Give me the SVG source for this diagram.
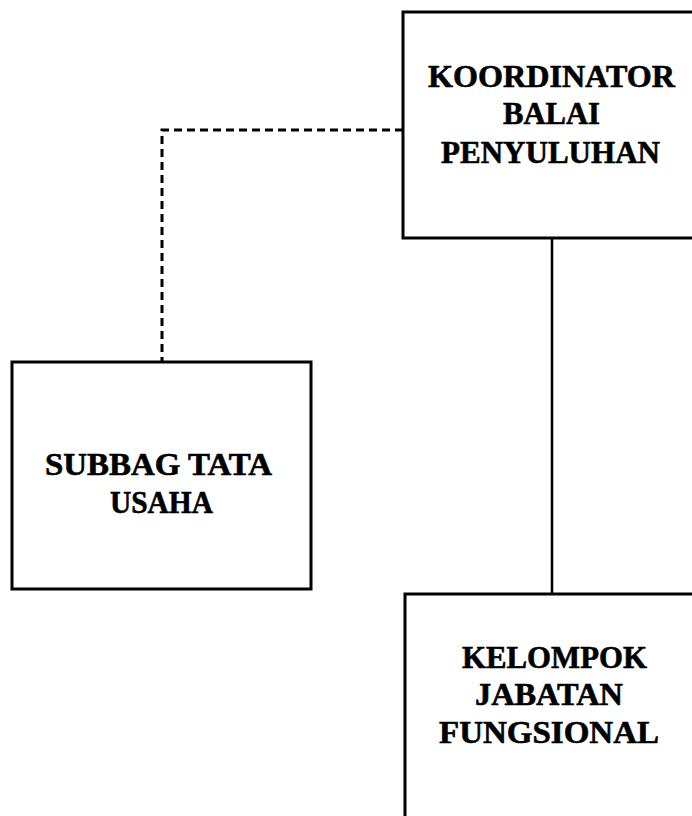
<svg xmlns="http://www.w3.org/2000/svg" width="692" height="816" viewBox="0 0 692 816">
<style>
.box{fill:#fff;stroke:#000;stroke-width:3}
.t{font-family:"Liberation Serif","Times New Roman",serif;font-weight:bold;font-size:31px;fill:#000;stroke:#000;stroke-width:0.6;text-anchor:middle}
.solid{stroke:#000;stroke-width:2.5;fill:none}
.dash{stroke:#000;stroke-width:3;fill:none;stroke-dasharray:8 5}
</style>
<rect width="692" height="816" fill="#fff"/>
<g id="connectors">
<path class="dash" d="M403,130 H162 V361"/>
<path class="solid" d="M552,238 V594"/>
</g>
<g id="koordinator">
<rect class="box" x="403" y="12" width="300" height="226"/>
<text class="t" x="551.5" y="87" textLength="247" lengthAdjust="spacingAndGlyphs">KOORDINATOR</text>
<text class="t" x="551.5" y="124" textLength="97" lengthAdjust="spacingAndGlyphs">BALAI</text>
<text class="t" x="550.5" y="163" textLength="219" lengthAdjust="spacingAndGlyphs">PENYULUHAN</text>
</g>
<g id="subbag">
<rect class="box" x="12" y="362" width="299" height="227"/>
<text class="t" x="158.5" y="475" textLength="227" lengthAdjust="spacingAndGlyphs">SUBBAG TATA</text>
<text class="t" x="161.5" y="513" textLength="103" lengthAdjust="spacingAndGlyphs">USAHA</text>
</g>
<g id="kelompok">
<rect class="box" x="405" y="594" width="300" height="240"/>
<text class="t" x="554.5" y="668" textLength="185" lengthAdjust="spacingAndGlyphs">KELOMPOK</text>
<text class="t" x="549" y="705" textLength="148" lengthAdjust="spacingAndGlyphs">JABATAN</text>
<text class="t" x="549" y="743" textLength="220" lengthAdjust="spacingAndGlyphs">FUNGSIONAL</text>
</g>
</svg>
